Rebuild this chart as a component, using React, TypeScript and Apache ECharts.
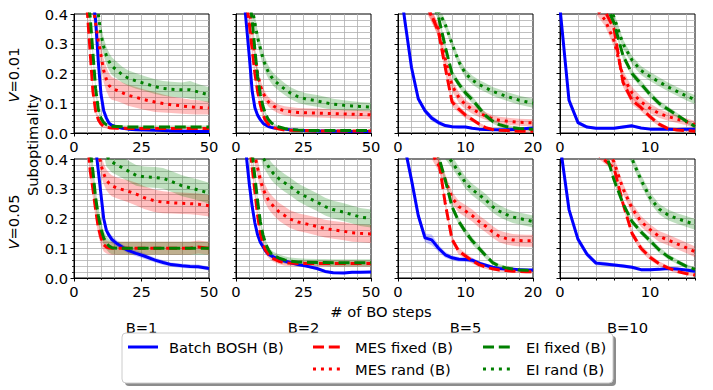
import React, { useEffect, useRef } from "react";
import * as echarts from "echarts";

// ---------- x grids ----------
const X50 = [0, 3, 5, 6, 7, 8, 9, 10, 11, 12, 13, 14, 16, 18, 20, 23, 26, 30, 33, 36, 40, 43, 46, 50];
const X20 = [0, 1, 2, 3, 4, 5, 6, 7, 8, 9, 10, 11, 12, 13, 14, 15, 16, 17, 18, 19, 20];
const X15 = [0, 1, 2, 3, 4, 5, 6, 7, 8, 9, 10, 11, 12, 13, 14, 15];

const METHODS = ["Batch BOSH (B)", "MES fixed (B)", "MES rand (B)", "EI fixed (B)", "EI rand (B)"];
const COL_TITLES = ["B=1", "B=2", "B=5", "B=10"];
const ROW_TITLES = ["0.01", "0.05"];
const Y_TICKS = [0, 0.1, 0.2, 0.3, 0.4];

// ---------- V=0.01, B=1 ----------
const v01b1_bosh = [0.95, 0.8, 0.65, 0.55, 0.45, 0.38, 0.24, 0.13, 0.075, 0.05, 0.033, 0.026, 0.02, 0.016, 0.013, 0.011, 0.01, 0.009, 0.008, 0.007, 0.006, 0.006, 0.005, 0.005];
const v01b1_bosh_sd = [0.02, 0.02, 0.02, 0.02, 0.02, 0.02, 0.015, 0.012, 0.01, 0.008, 0.006, 0.005, 0.004, 0.004, 0.003, 0.003, 0.003, 0.003, 0.003, 0.003, 0.002, 0.002, 0.002, 0.002];
const v01b1_mesF = [0.9, 0.6, 0.4, 0.27, 0.14, 0.075, 0.045, 0.03, 0.024, 0.02, 0.018, 0.017, 0.016, 0.016, 0.015, 0.015, 0.015, 0.015, 0.015, 0.015, 0.015, 0.015, 0.015, 0.015];
const v01b1_mesF_sd = [0.03, 0.03, 0.025, 0.02, 0.015, 0.012, 0.01, 0.008, 0.006, 0.005, 0.005, 0.005, 0.005, 0.005, 0.005, 0.005, 0.005, 0.005, 0.005, 0.005, 0.005, 0.005, 0.005, 0.005];
const v01b1_mesR = [0.9, 0.7, 0.55, 0.48, 0.43, 0.37, 0.31, 0.26, 0.21, 0.18, 0.16, 0.15, 0.143, 0.135, 0.127, 0.12, 0.112, 0.104, 0.099, 0.095, 0.091, 0.088, 0.086, 0.084];
const v01b1_mesR_sd = [0.04, 0.04, 0.04, 0.04, 0.04, 0.04, 0.04, 0.04, 0.04, 0.04, 0.04, 0.038, 0.036, 0.035, 0.035, 0.035, 0.034, 0.033, 0.03, 0.028, 0.026, 0.025, 0.024, 0.022];
const v01b1_eiF = [0.9, 0.6, 0.45, 0.39, 0.27, 0.15, 0.08, 0.05, 0.035, 0.028, 0.025, 0.023, 0.022, 0.021, 0.02, 0.02, 0.02, 0.02, 0.02, 0.02, 0.02, 0.02, 0.02, 0.02];
const v01b1_eiF_sd = [0.03, 0.03, 0.03, 0.025, 0.02, 0.015, 0.012, 0.008, 0.006, 0.005, 0.005, 0.005, 0.005, 0.005, 0.005, 0.005, 0.005, 0.005, 0.005, 0.005, 0.005, 0.005, 0.005, 0.005];
const v01b1_eiR = [0.9, 0.75, 0.6, 0.55, 0.5, 0.45, 0.4, 0.33, 0.29, 0.26, 0.24, 0.225, 0.21, 0.195, 0.185, 0.175, 0.167, 0.156, 0.15, 0.147, 0.145, 0.145, 0.138, 0.128];
const v01b1_eiR_sd = [0.03, 0.03, 0.03, 0.03, 0.03, 0.03, 0.03, 0.03, 0.03, 0.03, 0.03, 0.03, 0.028, 0.027, 0.026, 0.026, 0.025, 0.025, 0.025, 0.025, 0.025, 0.03, 0.027, 0.026];

// ---------- V=0.01, B=2 ----------
const v01b2_bosh = [0.9, 0.45, 0.25, 0.14, 0.085, 0.06, 0.045, 0.033, 0.027, 0.022, 0.019, 0.017, 0.015, 0.013, 0.011, 0.009, 0.008, 0.007, 0.007, 0.006, 0.006, 0.005, 0.005, 0.005];
const v01b2_bosh_sd = [0.02, 0.02, 0.015, 0.012, 0.01, 0.008, 0.006, 0.005, 0.004, 0.004, 0.003, 0.003, 0.003, 0.002, 0.002, 0.002, 0.002, 0.002, 0.002, 0.002, 0.002, 0.002, 0.002, 0.002];
const v01b2_mesF = [0.9, 0.5, 0.36, 0.28, 0.2, 0.14, 0.095, 0.06, 0.042, 0.03, 0.023, 0.018, 0.013, 0.01, 0.009, 0.008, 0.008, 0.007, 0.007, 0.007, 0.007, 0.007, 0.007, 0.007];
const v01b2_mesF_sd = [0.02, 0.02, 0.02, 0.02, 0.018, 0.015, 0.012, 0.01, 0.008, 0.006, 0.005, 0.004, 0.003, 0.003, 0.003, 0.003, 0.003, 0.003, 0.003, 0.003, 0.003, 0.003, 0.003, 0.003];
const v01b2_mesR = [0.9, 0.6, 0.42, 0.33, 0.26, 0.2, 0.16, 0.135, 0.118, 0.105, 0.097, 0.09, 0.08, 0.075, 0.072, 0.069, 0.068, 0.067, 0.066, 0.065, 0.064, 0.063, 0.062, 0.061];
const v01b2_mesR_sd = [0.02, 0.02, 0.02, 0.02, 0.02, 0.02, 0.02, 0.018, 0.017, 0.016, 0.016, 0.015, 0.015, 0.015, 0.015, 0.015, 0.015, 0.015, 0.015, 0.015, 0.015, 0.015, 0.015, 0.015];
const v01b2_eiF = [0.9, 0.6, 0.45, 0.38, 0.28, 0.19, 0.13, 0.09, 0.062, 0.045, 0.035, 0.028, 0.02, 0.015, 0.012, 0.01, 0.009, 0.008, 0.008, 0.008, 0.008, 0.008, 0.008, 0.008];
const v01b2_eiF_sd = [0.02, 0.02, 0.02, 0.02, 0.018, 0.015, 0.012, 0.01, 0.008, 0.006, 0.005, 0.004, 0.003, 0.003, 0.003, 0.003, 0.003, 0.003, 0.003, 0.003, 0.003, 0.003, 0.003, 0.003];
const v01b2_eiR = [0.9, 0.7, 0.5, 0.42, 0.37, 0.32, 0.285, 0.25, 0.225, 0.205, 0.19, 0.178, 0.162, 0.148, 0.135, 0.122, 0.114, 0.108, 0.102, 0.097, 0.093, 0.091, 0.089, 0.087];
const v01b2_eiR_sd = [0.025, 0.025, 0.025, 0.025, 0.025, 0.025, 0.025, 0.025, 0.024, 0.023, 0.022, 0.022, 0.021, 0.02, 0.02, 0.02, 0.02, 0.02, 0.02, 0.018, 0.017, 0.016, 0.015, 0.015];

// ---------- V=0.01, B=5 ----------
const v01b5_bosh = [0.55, 0.38, 0.22, 0.115, 0.075, 0.05, 0.035, 0.025, 0.021, 0.02, 0.02, 0.016, 0.013, 0.012, 0.011, 0.011, 0.011, 0.012, 0.013, 0.015, 0.017];
const v01b5_bosh_sd = [0.02, 0.015, 0.012, 0.012, 0.01, 0.01, 0.008, 0.006, 0.005, 0.005, 0.004, 0.004, 0.003, 0.003, 0.003, 0.003, 0.003, 0.003, 0.003, 0.003, 0.003];
const v01b5_mesF = [0.9, 0.75, 0.6, 0.5, 0.43, 0.395, 0.34, 0.22, 0.105, 0.08, 0.06, 0.045, 0.03, 0.018, 0.012, 0.009, 0.008, 0.007, 0.006, 0.006, 0.006];
const v01b5_mesF_sd = [0.02, 0.02, 0.02, 0.02, 0.02, 0.02, 0.02, 0.018, 0.015, 0.012, 0.01, 0.008, 0.006, 0.005, 0.004, 0.004, 0.004, 0.004, 0.004, 0.004, 0.004];
const v01b5_mesR = [0.9, 0.8, 0.68, 0.55, 0.45, 0.39, 0.35, 0.25, 0.16, 0.12, 0.095, 0.08, 0.068, 0.057, 0.048, 0.043, 0.04, 0.038, 0.036, 0.035, 0.034];
const v01b5_mesR_sd = [0.02, 0.02, 0.02, 0.02, 0.02, 0.02, 0.02, 0.02, 0.02, 0.018, 0.016, 0.015, 0.014, 0.013, 0.012, 0.012, 0.012, 0.012, 0.012, 0.012, 0.012];
const v01b5_eiF = [0.9, 0.8, 0.7, 0.6, 0.5, 0.44, 0.39, 0.29, 0.2, 0.165, 0.135, 0.112, 0.085, 0.058, 0.04, 0.028, 0.022, 0.018, 0.015, 0.014, 0.013];
const v01b5_eiF_sd = [0.012, 0.012, 0.012, 0.012, 0.012, 0.012, 0.012, 0.012, 0.012, 0.012, 0.012, 0.012, 0.011, 0.01, 0.008, 0.007, 0.006, 0.005, 0.005, 0.005, 0.005];
const v01b5_eiR = [0.9, 0.8, 0.7, 0.6, 0.52, 0.45, 0.41, 0.365, 0.3, 0.24, 0.2, 0.178, 0.163, 0.152, 0.14, 0.132, 0.124, 0.117, 0.11, 0.105, 0.1];
const v01b5_eiR_sd = [0.015, 0.015, 0.015, 0.015, 0.015, 0.015, 0.015, 0.015, 0.015, 0.015, 0.015, 0.015, 0.015, 0.015, 0.015, 0.015, 0.015, 0.015, 0.015, 0.015, 0.015];

// ---------- V=0.01, B=10 ----------
const v01b10_bosh = [0.42, 0.11, 0.035, 0.02, 0.016, 0.016, 0.016, 0.02, 0.024, 0.017, 0.013, 0.013, 0.013, 0.012, 0.013, 0.013];
const v01b10_bosh_sd = [0.02, 0.015, 0.008, 0.005, 0.004, 0.004, 0.004, 0.006, 0.006, 0.004, 0.003, 0.003, 0.003, 0.003, 0.003, 0.003];
const v01b10_mesF = [0.9, 0.8, 0.65, 0.5, 0.44, 0.41, 0.35, 0.17, 0.11, 0.085, 0.055, 0.03, 0.015, 0.01, 0.008, 0.006];
const v01b10_mesF_sd = [0.015, 0.015, 0.015, 0.015, 0.015, 0.015, 0.015, 0.015, 0.014, 0.012, 0.01, 0.008, 0.006, 0.005, 0.004, 0.004];
const v01b10_mesR = [0.9, 0.8, 0.7, 0.58, 0.42, 0.38, 0.31, 0.19, 0.135, 0.105, 0.083, 0.066, 0.055, 0.047, 0.038, 0.028];
const v01b10_mesR_sd = [0.02, 0.02, 0.02, 0.02, 0.02, 0.02, 0.02, 0.02, 0.02, 0.018, 0.016, 0.015, 0.014, 0.013, 0.012, 0.012];
const v01b10_eiF = [0.9, 0.85, 0.75, 0.62, 0.52, 0.44, 0.37, 0.26, 0.2, 0.165, 0.13, 0.1, 0.08, 0.06, 0.04, 0.022];
const v01b10_eiF_sd = [0.012, 0.012, 0.012, 0.012, 0.012, 0.012, 0.012, 0.012, 0.012, 0.012, 0.011, 0.01, 0.009, 0.008, 0.007, 0.006];
const v01b10_eiR = [0.9, 0.85, 0.78, 0.68, 0.55, 0.46, 0.39, 0.3, 0.245, 0.21, 0.19, 0.172, 0.155, 0.14, 0.125, 0.112];
const v01b10_eiR_sd = [0.015, 0.015, 0.015, 0.015, 0.015, 0.015, 0.015, 0.015, 0.015, 0.015, 0.015, 0.015, 0.015, 0.015, 0.015, 0.015];

// ---------- V=0.05, B=1 ----------
const v05b1_bosh = [0.9, 0.75, 0.62, 0.56, 0.5, 0.44, 0.36, 0.28, 0.2, 0.16, 0.143, 0.13, 0.115, 0.103, 0.093, 0.083, 0.074, 0.06, 0.052, 0.045, 0.041, 0.039, 0.038, 0.032];
const v05b1_bosh_sd = [0.02, 0.02, 0.02, 0.02, 0.02, 0.02, 0.02, 0.018, 0.015, 0.013, 0.012, 0.012, 0.011, 0.01, 0.01, 0.01, 0.009, 0.008, 0.008, 0.007, 0.007, 0.007, 0.007, 0.007];
const v05b1_mesF = [0.9, 0.6, 0.46, 0.36, 0.3, 0.23, 0.17, 0.135, 0.112, 0.104, 0.101, 0.1, 0.1, 0.1, 0.1, 0.1, 0.1, 0.1, 0.1, 0.1, 0.1, 0.1, 0.104, 0.1];
const v05b1_mesF_sd = [0.03, 0.03, 0.03, 0.03, 0.03, 0.03, 0.028, 0.025, 0.023, 0.022, 0.022, 0.022, 0.022, 0.022, 0.022, 0.022, 0.022, 0.022, 0.022, 0.022, 0.022, 0.022, 0.022, 0.022];
const v05b1_mesR = [0.9, 0.8, 0.7, 0.65, 0.58, 0.5, 0.43, 0.38, 0.35, 0.33, 0.318, 0.31, 0.302, 0.297, 0.292, 0.282, 0.27, 0.259, 0.255, 0.253, 0.251, 0.25, 0.248, 0.243];
const v05b1_mesR_sd = [0.035, 0.035, 0.035, 0.035, 0.035, 0.035, 0.035, 0.035, 0.035, 0.035, 0.035, 0.035, 0.035, 0.036, 0.037, 0.038, 0.038, 0.038, 0.037, 0.036, 0.036, 0.036, 0.036, 0.036];
const v05b1_eiF = [0.9, 0.65, 0.5, 0.43, 0.36, 0.27, 0.21, 0.165, 0.135, 0.118, 0.107, 0.102, 0.1, 0.1, 0.1, 0.1, 0.1, 0.1, 0.1, 0.1, 0.1, 0.1, 0.1, 0.1];
const v05b1_eiF_sd = [0.03, 0.03, 0.03, 0.03, 0.03, 0.03, 0.028, 0.025, 0.023, 0.022, 0.022, 0.022, 0.022, 0.022, 0.022, 0.022, 0.022, 0.022, 0.022, 0.022, 0.022, 0.022, 0.022, 0.022];
const v05b1_eiR = [0.9, 0.85, 0.75, 0.7, 0.65, 0.6, 0.55, 0.5, 0.45, 0.41, 0.4, 0.39, 0.38, 0.37, 0.36, 0.345, 0.34, 0.338, 0.335, 0.325, 0.31, 0.303, 0.296, 0.285];
const v05b1_eiR_sd = [0.035, 0.035, 0.035, 0.035, 0.035, 0.035, 0.035, 0.035, 0.035, 0.035, 0.035, 0.035, 0.035, 0.035, 0.035, 0.035, 0.035, 0.035, 0.035, 0.035, 0.035, 0.035, 0.035, 0.035];

// ---------- V=0.05, B=2 ----------
const v05b2_bosh = [0.9, 0.48, 0.31, 0.24, 0.185, 0.145, 0.12, 0.105, 0.09, 0.08, 0.075, 0.07, 0.064, 0.057, 0.052, 0.045, 0.04, 0.032, 0.022, 0.018, 0.017, 0.019, 0.019, 0.02];
const v05b2_bosh_sd = [0.02, 0.02, 0.015, 0.012, 0.012, 0.01, 0.01, 0.01, 0.01, 0.008, 0.008, 0.008, 0.007, 0.007, 0.006, 0.006, 0.005, 0.005, 0.004, 0.004, 0.004, 0.004, 0.004, 0.004];
const v05b2_mesF = [0.9, 0.6, 0.45, 0.37, 0.29, 0.21, 0.15, 0.115, 0.092, 0.08, 0.071, 0.064, 0.056, 0.051, 0.05, 0.049, 0.049, 0.049, 0.049, 0.049, 0.049, 0.049, 0.049, 0.049];
const v05b2_mesF_sd = [0.02, 0.02, 0.02, 0.02, 0.02, 0.018, 0.016, 0.014, 0.012, 0.012, 0.011, 0.01, 0.01, 0.01, 0.01, 0.01, 0.01, 0.01, 0.01, 0.01, 0.01, 0.01, 0.01, 0.01];
const v05b2_mesR = [0.9, 0.75, 0.55, 0.47, 0.41, 0.37, 0.33, 0.3, 0.28, 0.262, 0.25, 0.24, 0.222, 0.21, 0.198, 0.188, 0.182, 0.173, 0.166, 0.162, 0.157, 0.152, 0.15, 0.148];
const v05b2_mesR_sd = [0.03, 0.03, 0.03, 0.03, 0.03, 0.03, 0.03, 0.03, 0.03, 0.03, 0.03, 0.03, 0.03, 0.03, 0.03, 0.03, 0.03, 0.03, 0.03, 0.03, 0.03, 0.03, 0.03, 0.03];
const v05b2_eiF = [0.9, 0.65, 0.48, 0.42, 0.34, 0.26, 0.19, 0.145, 0.115, 0.095, 0.082, 0.075, 0.067, 0.061, 0.057, 0.054, 0.053, 0.052, 0.052, 0.051, 0.051, 0.051, 0.051, 0.051];
const v05b2_eiF_sd = [0.015, 0.015, 0.015, 0.015, 0.015, 0.014, 0.013, 0.012, 0.012, 0.012, 0.012, 0.012, 0.012, 0.012, 0.012, 0.012, 0.012, 0.012, 0.012, 0.012, 0.012, 0.012, 0.012, 0.012];
const v05b2_eiR = [0.9, 0.8, 0.65, 0.58, 0.52, 0.48, 0.44, 0.405, 0.39, 0.375, 0.36, 0.35, 0.333, 0.32, 0.308, 0.288, 0.273, 0.255, 0.24, 0.23, 0.221, 0.213, 0.205, 0.2];
const v05b2_eiR_sd = [0.03, 0.03, 0.03, 0.03, 0.03, 0.03, 0.03, 0.03, 0.03, 0.03, 0.03, 0.03, 0.03, 0.03, 0.03, 0.03, 0.03, 0.03, 0.03, 0.03, 0.03, 0.03, 0.03, 0.03];

// ---------- V=0.05, B=5 ----------
const v05b5_bosh = [0.7, 0.44, 0.33, 0.21, 0.135, 0.128, 0.1, 0.078, 0.068, 0.063, 0.062, 0.06, 0.05, 0.043, 0.036, 0.032, 0.03, 0.029, 0.028, 0.027, 0.027];
const v05b5_bosh_sd = [0.02, 0.02, 0.02, 0.015, 0.015, 0.018, 0.012, 0.01, 0.008, 0.008, 0.008, 0.008, 0.007, 0.006, 0.005, 0.005, 0.005, 0.004, 0.004, 0.004, 0.004];
const v05b5_mesF = [0.9, 0.8, 0.7, 0.6, 0.52, 0.46, 0.4, 0.25, 0.13, 0.09, 0.074, 0.058, 0.045, 0.037, 0.031, 0.027, 0.025, 0.023, 0.022, 0.021, 0.021];
const v05b5_mesF_sd = [0.012, 0.012, 0.012, 0.012, 0.012, 0.012, 0.012, 0.012, 0.012, 0.012, 0.01, 0.009, 0.008, 0.007, 0.006, 0.006, 0.005, 0.005, 0.005, 0.005, 0.005];
const v05b5_mesR = [0.9, 0.8, 0.7, 0.6, 0.5, 0.42, 0.38, 0.33, 0.27, 0.24, 0.225, 0.21, 0.19, 0.174, 0.155, 0.14, 0.133, 0.128, 0.126, 0.125, 0.125];
const v05b5_mesR_sd = [0.02, 0.02, 0.02, 0.02, 0.02, 0.02, 0.02, 0.02, 0.02, 0.02, 0.02, 0.02, 0.02, 0.02, 0.02, 0.02, 0.02, 0.02, 0.02, 0.02, 0.02];
const v05b5_eiF = [0.9, 0.8, 0.7, 0.6, 0.52, 0.46, 0.41, 0.33, 0.24, 0.19, 0.155, 0.125, 0.1, 0.075, 0.052, 0.04, 0.034, 0.03, 0.027, 0.026, 0.025];
const v05b5_eiF_sd = [0.012, 0.012, 0.012, 0.012, 0.012, 0.012, 0.012, 0.012, 0.012, 0.012, 0.012, 0.012, 0.011, 0.01, 0.008, 0.007, 0.006, 0.005, 0.005, 0.005, 0.005];
const v05b5_eiR = [0.9, 0.85, 0.8, 0.7, 0.6, 0.52, 0.47, 0.42, 0.39, 0.355, 0.32, 0.297, 0.28, 0.262, 0.24, 0.225, 0.214, 0.205, 0.2, 0.195, 0.19];
const v05b5_eiR_sd = [0.02, 0.02, 0.02, 0.02, 0.02, 0.02, 0.02, 0.02, 0.02, 0.02, 0.02, 0.02, 0.02, 0.02, 0.02, 0.02, 0.02, 0.02, 0.02, 0.02, 0.02];

// ---------- V=0.05, B=10 ----------
const v05b10_bosh = [0.45, 0.23, 0.13, 0.08, 0.05, 0.047, 0.044, 0.04, 0.036, 0.028, 0.028, 0.029, 0.032, 0.03, 0.027, 0.023];
const v05b10_bosh_sd = [0.02, 0.015, 0.012, 0.01, 0.008, 0.007, 0.006, 0.006, 0.006, 0.005, 0.005, 0.005, 0.005, 0.005, 0.005, 0.005];
const v05b10_mesF = [0.9, 0.8, 0.7, 0.58, 0.42, 0.395, 0.37, 0.25, 0.15, 0.1, 0.07, 0.048, 0.034, 0.022, 0.015, 0.01];
const v05b10_mesF_sd = [0.012, 0.012, 0.012, 0.012, 0.012, 0.012, 0.012, 0.012, 0.012, 0.012, 0.01, 0.008, 0.007, 0.006, 0.005, 0.005];
const v05b10_mesR = [0.9, 0.85, 0.75, 0.65, 0.53, 0.45, 0.39, 0.3, 0.235, 0.19, 0.163, 0.14, 0.128, 0.115, 0.102, 0.088];
const v05b10_mesR_sd = [0.018, 0.018, 0.018, 0.018, 0.018, 0.018, 0.018, 0.018, 0.018, 0.018, 0.018, 0.018, 0.018, 0.018, 0.018, 0.018];
const v05b10_eiF = [0.9, 0.8, 0.7, 0.6, 0.5, 0.43, 0.33, 0.25, 0.19, 0.155, 0.125, 0.095, 0.072, 0.055, 0.04, 0.029];
const v05b10_eiF_sd = [0.01, 0.01, 0.01, 0.01, 0.01, 0.01, 0.01, 0.01, 0.01, 0.01, 0.01, 0.01, 0.009, 0.008, 0.007, 0.006];
const v05b10_eiR = [0.9, 0.85, 0.8, 0.72, 0.65, 0.58, 0.52, 0.46, 0.4, 0.33, 0.27, 0.232, 0.212, 0.2, 0.19, 0.18];
const v05b10_eiR_sd = [0.018, 0.018, 0.018, 0.018, 0.018, 0.018, 0.018, 0.018, 0.018, 0.018, 0.018, 0.018, 0.018, 0.018, 0.018, 0.018];

// ---------- assembly ----------
const PANEL_DATA = [
  { x: X50, max: 50, major: 25, minor: 5, ys: [v01b1_bosh, v01b1_mesF, v01b1_mesR, v01b1_eiF, v01b1_eiR], sds: [v01b1_bosh_sd, v01b1_mesF_sd, v01b1_mesR_sd, v01b1_eiF_sd, v01b1_eiR_sd] },
  { x: X50, max: 50, major: 25, minor: 5, ys: [v01b2_bosh, v01b2_mesF, v01b2_mesR, v01b2_eiF, v01b2_eiR], sds: [v01b2_bosh_sd, v01b2_mesF_sd, v01b2_mesR_sd, v01b2_eiF_sd, v01b2_eiR_sd] },
  { x: X20, max: 20, major: 10, minor: 5, ys: [v01b5_bosh, v01b5_mesF, v01b5_mesR, v01b5_eiF, v01b5_eiR], sds: [v01b5_bosh_sd, v01b5_mesF_sd, v01b5_mesR_sd, v01b5_eiF_sd, v01b5_eiR_sd] },
  { x: X15, max: 15, major: 10, minor: 0, ys: [v01b10_bosh, v01b10_mesF, v01b10_mesR, v01b10_eiF, v01b10_eiR], sds: [v01b10_bosh_sd, v01b10_mesF_sd, v01b10_mesR_sd, v01b10_eiF_sd, v01b10_eiR_sd] },
  { x: X50, max: 50, major: 25, minor: 5, ys: [v05b1_bosh, v05b1_mesF, v05b1_mesR, v05b1_eiF, v05b1_eiR], sds: [v05b1_bosh_sd, v05b1_mesF_sd, v05b1_mesR_sd, v05b1_eiF_sd, v05b1_eiR_sd] },
  { x: X50, max: 50, major: 25, minor: 5, ys: [v05b2_bosh, v05b2_mesF, v05b2_mesR, v05b2_eiF, v05b2_eiR], sds: [v05b2_bosh_sd, v05b2_mesF_sd, v05b2_mesR_sd, v05b2_eiF_sd, v05b2_eiR_sd] },
  { x: X20, max: 20, major: 10, minor: 5, ys: [v05b5_bosh, v05b5_mesF, v05b5_mesR, v05b5_eiF, v05b5_eiR], sds: [v05b5_bosh_sd, v05b5_mesF_sd, v05b5_mesR_sd, v05b5_eiF_sd, v05b5_eiR_sd] },
  { x: X15, max: 15, major: 10, minor: 0, ys: [v05b10_bosh, v05b10_mesF, v05b10_mesR, v05b10_eiF, v05b10_eiR], sds: [v05b10_bosh_sd, v05b10_mesF_sd, v05b10_mesR_sd, v05b10_eiF_sd, v05b10_eiR_sd] },
];

const COLORS = ["#0000ff", "#ff0000", "#ff0000", "#008000", "#008000"];
const BAND_COLORS = ["rgba(0,0,255,0.22)", "rgba(255,0,0,0.25)", "rgba(255,0,0,0.25)", "rgba(0,128,0,0.25)", "rgba(0,128,0,0.25)"];
const DASHES: any[] = ["solid", [11, 4.8], [3, 4.95], [11, 4.8], [3, 4.95]];

const FONT = "DejaVu Sans";
const FS = 14.7;
const COL_LEFT = [74, 236, 398, 560];
const ROW_TOP = [14, 159];
const PW = 135;
const PH = 119;
const GRID_COLOR = "#b0b0b0";

function buildOption() {
  const grids: any[] = [];
  const xAxes: any[] = [];
  const yAxes: any[] = [];
  const series: any[] = [];

  PANEL_DATA.forEach((p, i) => {
    const r = Math.floor(i / 4);
    const c = i % 4;
    grids.push({
      left: COL_LEFT[c], top: ROW_TOP[r], width: PW, height: PH,
      show: true, borderColor: "#000", borderWidth: 1, backgroundColor: "transparent",
      containLabel: false,
    });
    const useMinor = p.minor > 0;
    xAxes.push({
      type: "value", gridIndex: i, min: 0, max: p.max,
      interval: useMinor ? p.major : 2,
      axisLine: { show: true, onZero: false, lineStyle: { color: "#000", width: 1 } },
      axisTick: { show: true, length: useMinor ? 3.5 : 2.5, lineStyle: { color: "#000", width: 1 } },
      minorTick: { show: useMinor, splitNumber: p.minor || 5, length: 2, lineStyle: { color: "#000", width: 0.8 } },
      splitLine: { show: true, showMinLine: false, showMaxLine: false, lineStyle: { color: GRID_COLOR, width: 0.8 } },
      minorSplitLine: { show: useMinor, lineStyle: { color: GRID_COLOR, width: 0.8 } },
      axisLabel: {
        show: true, margin: 6, color: "#000", fontFamily: FONT, fontSize: FS,
        showMaxLabel: true, showMinLabel: true, hideOverlap: false,
        formatter: (v: number) => (Math.abs(v % p.major) < 1e-9 ? String(v) : ""),
      },
    });
    yAxes.push({
      type: "value", gridIndex: i, min: 0, max: 0.4, interval: 0.1,
      axisLine: { show: true, onZero: false, lineStyle: { color: "#000", width: 1 } },
      axisTick: { show: true, length: 3.5, lineStyle: { color: "#000", width: 1 } },
      minorTick: { show: true, splitNumber: 5, length: 2, lineStyle: { color: "#000", width: 0.8 } },
      splitLine: { show: true, showMinLine: false, showMaxLine: false, lineStyle: { color: GRID_COLOR, width: 0.8 } },
      minorSplitLine: { show: true, lineStyle: { color: GRID_COLOR, width: 0.8 } },
      axisLabel: {
        show: c === 0, margin: 6, color: "#000", fontFamily: FONT, fontSize: FS,
        formatter: (v: number) => {
          const t = Y_TICKS.find((k) => Math.abs(k - v) < 1e-9);
          return t === undefined ? "" : t.toFixed(1);
        },
      },
    });

    // bands
    p.ys.forEach((ys, m) => {
      const sd = p.sds[m];
      const xs = p.x;
      series.push({
        type: "custom", xAxisIndex: i, yAxisIndex: i, clip: true, silent: true, z: 1,
        data: [[xs[0], ys[0]]],
        renderItem: (_params: any, api: any) => {
          const pts: number[][] = [];
          for (let k = 0; k < xs.length; k++) pts.push(api.coord([xs[k], ys[k] + sd[k]]));
          for (let k = xs.length - 1; k >= 0; k--) pts.push(api.coord([xs[k], ys[k] - sd[k]]));
          return { type: "polygon", shape: { points: pts }, style: { fill: BAND_COLORS[m], stroke: null } };
        },
      });
    });
    // lines
    p.ys.forEach((ys, m) => {
      series.push({
        type: "line", name: METHODS[m], xAxisIndex: i, yAxisIndex: i, clip: true, silent: true, z: 3,
        showSymbol: false, symbol: "none",
        data: p.x.map((x, k) => [x, ys[k]]),
        lineStyle: { color: COLORS[m], width: 3, type: DASHES[m], cap: "butt", join: "round" },
      });
    });
  });

  const textStyle = { fontFamily: FONT, fontSize: FS, fill: "#000" };
  const graphics: any[] = [];
  // row labels
  ROW_TITLES.forEach((v, r) => {
    graphics.push({
      type: "text", x: 13, y: r === 0 ? 75 : 222, rotation: Math.PI / 2,
      style: {
        ...textStyle, text: "{i|V}=" + v, align: "center", verticalAlign: "middle",
        rich: { i: { fontStyle: "italic", fontFamily: FONT, fontSize: FS } },
      },
    });
  });
  graphics.push({
    type: "text", x: 32, y: 145, rotation: Math.PI / 2,
    style: { ...textStyle, text: "Suboptimality", align: "center", verticalAlign: "middle" },
  });
  graphics.push({
    type: "text", x: 381, y: 311,
    style: { ...textStyle, text: "# of BO steps", align: "center", verticalAlign: "middle" },
  });
  COL_TITLES.forEach((t, c) => {
    graphics.push({
      type: "text", x: COL_LEFT[c] + PW / 2, y: 327,
      style: { ...textStyle, text: t, align: "center", verticalAlign: "middle" },
    });
  });
  // legend box
  graphics.push({ type: "rect", shape: { x: 125, y: 336, width: 491, height: 50, r: 4 }, style: { fill: "rgba(0,0,0,0.45)" }, z: 10 });
  graphics.push({ type: "rect", shape: { x: 122, y: 333, width: 491, height: 50, r: 4 }, style: { fill: "#fff", stroke: "#cccccc", lineWidth: 1 }, z: 11 });
  const legendPos = [
    { x: 128, y: 347, tx: 169 },
    { x: 313, y: 347, tx: 355 },
    { x: 313, y: 369, tx: 355 },
    { x: 483, y: 347, tx: 526 },
    { x: 483, y: 369, tx: 526 },
  ];
  METHODS.forEach((name, m) => {
    const lp = legendPos[m];
    graphics.push({
      type: "line", z: 12,
      shape: { x1: lp.x, y1: lp.y, x2: lp.x + 30, y2: lp.y },
      style: { stroke: COLORS[m], lineWidth: 3, lineDash: DASHES[m] === "solid" ? null : DASHES[m], lineCap: "butt" },
    });
    graphics.push({
      type: "text", z: 12, x: lp.tx, y: lp.y,
      style: { ...textStyle, text: name, align: "left", verticalAlign: "middle" },
    });
  });

  return {
    animation: false,
    backgroundColor: "#fff",
    grid: grids,
    xAxis: xAxes,
    yAxis: yAxes,
    series,
    graphic: graphics,
  };
}

export default function App() {
  const ref = useRef<HTMLDivElement>(null);
  useEffect(() => {
    if (!ref.current) return;
    const chart = echarts.init(ref.current, null, { renderer: "svg" });
    chart.setOption(buildOption() as any);
    return () => chart.dispose();
  }, []);
  return <div ref={ref} style={{ position: "absolute", left: 0, top: 0, width: 713, height: 390 }} />;
}
